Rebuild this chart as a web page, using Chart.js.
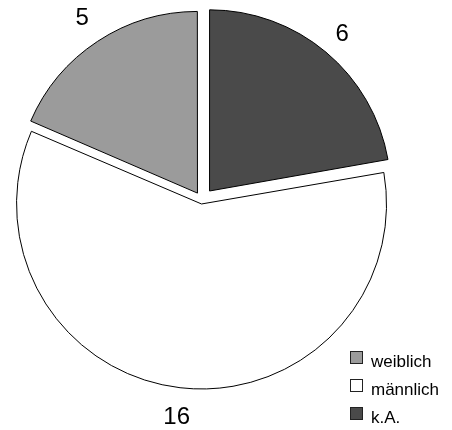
<!DOCTYPE html>
<html>
<head>
<meta charset="utf-8">
<script src="https://cdn.jsdelivr.net/npm/chart.js@4"></script>
<style>
html,body{margin:0;padding:0;background:#fff;}
#wrap{position:relative;width:452px;height:430px;}
</style>
</head>
<body>
<div id="wrap"><canvas id="c" width="452" height="430"></canvas></div>
<script>
// slices in drawing order (clockwise from 12 o'clock)
const labels=['k.A.','männlich','weiblich'];
const values=[6,16,5];
const colors=['#4a4a4a','#ffffff','#9b9b9b'];
// legend order as in the picture
const legendOrder=['weiblich','männlich','k.A.'];

const FONT='"Liberation Sans", Arial, sans-serif';

const outsideLabels={
  id:'outsideLabels',
  afterDatasetsDraw(chart){
    const ctx=chart.ctx;
    const arcs=chart.getDatasetMeta(0).data;
    ctx.save();
    ctx.fillStyle='#000';
    ctx.font='24px '+FONT;
    ctx.textAlign='center';ctx.textBaseline='middle';
    arcs.forEach((a,i)=>{
      const mid=(a.startAngle+a.endAngle)/2;
      const r=a.outerRadius+37;
      ctx.fillText(String(values[i]),a.x+Math.cos(mid)*r,a.y+Math.sin(mid)*r+1);
    });
    // legend
    ctx.font='17px '+FONT;
    ctx.textAlign='left';ctx.textBaseline='alphabetic';
    legendOrder.forEach((name,k)=>{
      const i=labels.indexOf(name);
      const y=351+k*28;
      ctx.fillStyle=colors[i];
      ctx.fillRect(350.5,y+0.5,12,12);
      ctx.strokeStyle='#222';ctx.lineWidth=1;
      ctx.strokeRect(350.5,y+0.5,12,12);
      ctx.fillStyle='#000';
      ctx.fillText(name,371,y+16);
    });
    ctx.restore();
  }
};

new Chart(document.getElementById('c'),{
  type:'pie',
  data:{labels,datasets:[{data:values,backgroundColor:colors,borderColor:'#000',borderWidth:1,
    offset:[47,16,33],borderJoinStyle:'miter'}]},
  options:{responsive:false,animation:false,radius:181,
    layout:{padding:{left:0,top:0,right:48,bottom:30}},
    plugins:{legend:{display:false},tooltip:{enabled:false}}},
  plugins:[outsideLabels]
});
</script>
</body>
</html>
